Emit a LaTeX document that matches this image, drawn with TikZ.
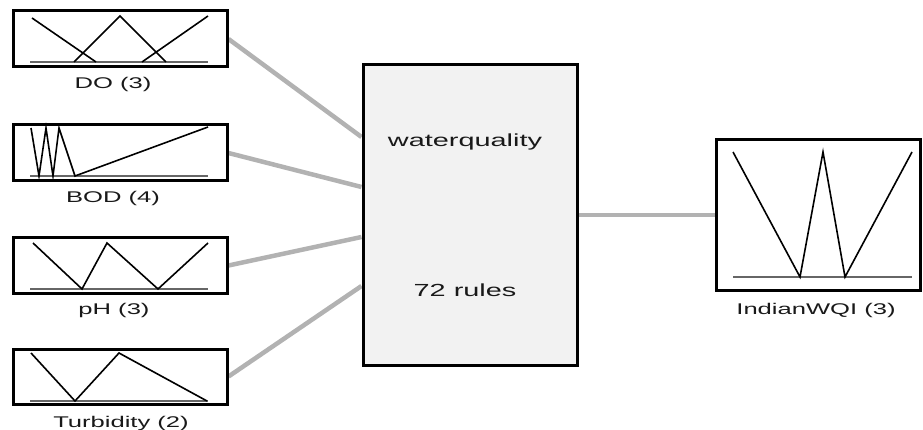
\documentclass[tikz,border=0pt]{standalone}
\usepackage{fontspec}
\setmainfont{Liberation Sans}
\newfontfamily\widesans{Liberation Sans}[FakeStretch=1.65]
\usetikzlibrary{backgrounds}
\tikzset{
  fisbox/.style={draw=black, line width=3pt, fill=white, minimum width=214pt,
                 minimum height=56pt, inner sep=0pt},
  link/.style={draw=black!30, line width=4.5pt},
  mf/.style={draw=black, line width=1.6pt, line join=miter},
  axisline/.style={draw=black!60, line width=1.6pt},
  lbl/.style={font=\widesans\fontsize{15.5}{17}\selectfont, text=black!90,
              inner sep=0pt, anchor=base},
  fistext/.style={font=\widesans\fontsize{17.5}{19}\selectfont, text=black!90,
                  inner sep=0pt, anchor=base},
}
\begin{document}
\begin{tikzpicture}[x=1pt,y=-1pt]
\path[use as bounding box] (0,0) rectangle (923,430);

% input variable blocks
\node[fisbox] (do) at (120,39) {};
\node[fisbox] (bod) at (120,153) {};
\node[fisbox] (ph) at (120,265.5) {};
\node[fisbox, minimum height=55pt] (turb) at (120,376.5) {};

% rule base block
\node[fisbox, fill=black!5, minimum height=300pt] (fis) at (470,215) {};
\node[fistext] (fisname) at (465,147) {waterquality};
\node[fistext] (fisrules) at (465,296) {72 rules};

% output variable block
\node[fisbox, minimum width=204pt, minimum height=150pt] (out) at (818.5,215) {};

% block labels
\node[lbl] (dolab) at (113,89) {DO (3)};
\node[lbl] (bodlab) at (113,203) {BOD (4)};
\node[lbl] (phlab) at (114,314) {pH (3)};
\node[lbl] (turblab) at (121,427) {Turbidity (2)};
\node[lbl] (outlab) at (816,314) {IndianWQI (3)};

% connections
\begin{scope}[on background layer]
  \draw[link] (do.east) -- ([yshift=78pt]fis.west);
  \draw[link] (bod.east) -- ([yshift=28pt]fis.west);
  \draw[link] (ph.east) -- ([yshift=-22pt]fis.west);
  \draw[link] (turb.east) -- ([yshift=-71pt]fis.west);
  \draw[link] (fis.east) -- (out.west);
\end{scope}

% membership functions: DO
\draw[axisline] (30,62) -- (208,62);
\draw[mf] (32,18) -- (96,62);
\draw[mf] (74,62) -- (120,16) -- (166,62);
\draw[mf] (142,62) -- (208,16);

% membership functions: BOD
\draw[axisline] (30,176) -- (208,176);
\draw[mf] (31,128) -- (39,176) -- (46,128) -- (53,176) -- (59,128) -- (75,176) -- (208,127);

% membership functions: pH
\draw[axisline] (30,289) -- (208,289);
\draw[mf] (33,243) -- (82,289) -- (107,243) -- (158,289) -- (208,243);

% membership functions: Turbidity
\draw[axisline] (30,401) -- (208,401);
\draw[mf] (31,353) -- (75,401) -- (119,353) -- (207,401);

% membership functions: IndianWQI
\draw[axisline] (733,277) -- (912,277);
\draw[mf] (733,152) -- (800,277) -- (823,152) -- (845,277) -- (912,152);
\end{tikzpicture}
\end{document}
